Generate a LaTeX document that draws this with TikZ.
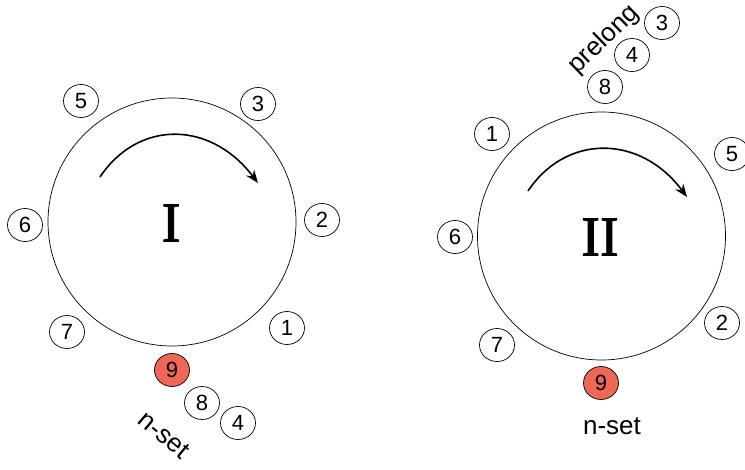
\documentclass[tikz,border=0pt]{standalone}
\usepackage{fontspec}
\setmainfont{Liberation Sans}
\newfontfamily\romfont{Liberation Serif}[FakeBold=1.6]
\usetikzlibrary{shapes.geometric,arrows.meta}
\definecolor{redfill}{RGB}{238,104,86}
\tikzset{
  num/.style={draw=black, line width=0.7pt, ellipse, minimum width=35pt, minimum height=33pt, inner sep=0pt, font=\fontsize{22}{22}\selectfont},
  rednum/.style={num, fill=redfill},
  big/.style={draw=black, line width=0.7pt, circle, minimum size=248pt, inner sep=0pt},
  roman/.style={font=\romfont\fontsize{56}{56}\selectfont},
  lbl/.style={font=\fontsize{26}{26}\selectfont, inner sep=0pt},
  rot/.style={line width=1.6pt, -{Stealth[length=13pt,width=10pt]}}
}
\begin{document}
\begin{tikzpicture}[x=1pt,y=-1pt]
\useasboundingbox (0,0) rectangle (745,469);
% Circle I
\node[big] (c1) at (172,222) {};
\node[roman] (t1) at (171,223) {I};
\draw[rot] (100,177) .. controls (138,120) and (210,120) .. (258,183);
\node[num] (a5) at (81,101) {5};
\node[num] (a3) at (258,104) {3};
\node[num] (a6) at (25,225) {6};
\node[num] (a2) at (322,220) {2};
\node[num] (a7) at (67,332) {7};
\node[num] (a1) at (287,328) {1};
\node[rednum] (a9) at (172,370) {9};
\node[num] (a8) at (202,403) {8};
\node[num] (a4) at (238,423) {4};
\node[lbl, rotate=-40] (ns1) at (164,435) {n-set};
% Circle II
\node[big] (c2) at (601.5,236) {};
\node[roman] (t2) at (600,237) {II};
\draw[rot] (528,191) .. controls (566,134) and (640,134) .. (687,197);
\node[num] (b1) at (492,134) {1};
\node[num] (b5) at (732,154) {5};
\node[num] (b6) at (455,237) {6};
\node[num] (b2) at (722,323) {2};
\node[num] (b7) at (497,345) {7};
\node[rednum] (b9) at (601,383) {9};
\node[num] (b8) at (605,87) {8};
\node[num] (b4) at (632,55) {4};
\node[num] (b3) at (662,23) {3};
\node[lbl, rotate=44] (pl) at (604,40) {prelong};
\node[lbl] (ns2) at (612,426) {n-set};
\end{tikzpicture}
\end{document}
